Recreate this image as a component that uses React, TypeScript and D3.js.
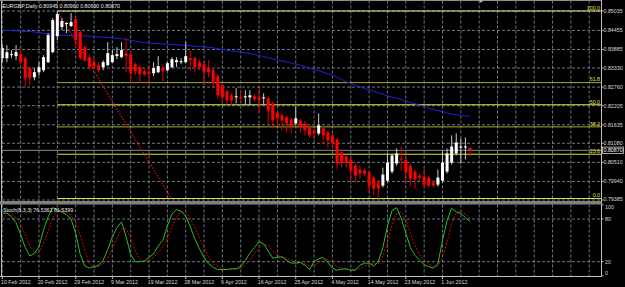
import React from "react";
import * as d3 from "d3";

const title = "EURGBP,Daily  0.80945 0.80960 0.80690 0.80870";
const stochTitle = "Stoch(8,3,3) 76.5362 81.5399";

const dateLabels = [
  "10 Feb 2012", "20 Feb 2012", "29 Feb 2012", "9 Mar 2012", "19 Mar 2012",
  "28 Mar 2012", "6 Apr 2012", "16 Apr 2012", "25 Apr 2012", "4 May 2012",
  "14 May 2012", "23 May 2012", "1 Jun 2012",
];

const openP = [
  0.83625, 0.83625, 0.83715, 0.83685, 0.83745, 0.83625, 0.83325, 0.83055, 0.83205, 0.83265,
  0.83505, 0.83805, 0.84285, 0.84555, 0.84645, 0.84585, 0.84795, 0.84405, 0.83955, 0.83655,
  0.83505, 0.83415, 0.83355, 0.83415, 0.83505, 0.83685, 0.83655, 0.83775, 0.83745, 0.83445,
  0.83355, 0.83235, 0.83205, 0.83175, 0.83205, 0.83325, 0.83265, 0.83355, 0.83505, 0.83505,
  0.83505, 0.83625, 0.83625, 0.83505, 0.83445, 0.83325, 0.83265, 0.83085, 0.82815, 0.82635,
  0.82515, 0.82455, 0.82455, 0.82455, 0.82455, 0.82485, 0.82455, 0.82425, 0.82425, 0.82275,
  0.82005, 0.81915, 0.81855, 0.81795, 0.81675, 0.81765, 0.81675, 0.81555, 0.81465, 0.81375,
  0.81525, 0.81405, 0.81315, 0.81195, 0.80805, 0.80685, 0.80595, 0.80415, 0.80295, 0.80265,
  0.80205, 0.80055, 0.79905, 0.79815, 0.79965, 0.80235, 0.80475, 0.80625, 0.80595, 0.80415,
  0.80235, 0.80115, 0.80085, 0.80055, 0.79905, 0.79845, 0.79965, 0.80235, 0.80505, 0.80775,
  0.80955, 0.80955, 0.80945,
];
const highP = [
  0.84045, 0.84015, 0.83865, 0.84015, 0.83925, 0.83685, 0.83385, 0.83325, 0.83505, 0.83715,
  0.84375, 0.84825, 0.85035, 0.84825, 0.84705, 0.84975, 0.84825, 0.84465, 0.84015, 0.83715,
  0.83625, 0.83505, 0.83565, 0.84105, 0.83865, 0.83955, 0.84105, 0.84225, 0.83805, 0.83505,
  0.83415, 0.83295, 0.83415, 0.83505, 0.83685, 0.83445, 0.83505, 0.83655, 0.83655, 0.83625,
  0.84105, 0.83865, 0.83685, 0.83565, 0.83565, 0.83565, 0.83325, 0.83145, 0.82875, 0.82695,
  0.82575, 0.82725, 0.82665, 0.82665, 0.82665, 0.82545, 0.82725, 0.82575, 0.82485, 0.82335,
  0.82065, 0.81975, 0.81915, 0.81855, 0.82185, 0.81825, 0.81735, 0.81615, 0.81525, 0.81975,
  0.81585, 0.81465, 0.81375, 0.81255, 0.80865, 0.80745, 0.80655, 0.80475, 0.80415, 0.80325,
  0.80265, 0.80115, 0.79965, 0.80355, 0.80775, 0.80775, 0.80925, 0.80985, 0.80655, 0.80475,
  0.80295, 0.80175, 0.80325, 0.80115, 0.79965, 0.80295, 0.80865, 0.80925, 0.81315, 0.81375,
  0.81225, 0.81255, 0.8096,
];
const lowP = [
  0.83505, 0.83505, 0.83625, 0.83565, 0.83415, 0.82755, 0.82815, 0.82965, 0.83115, 0.83205,
  0.83475, 0.83775, 0.84165, 0.84465, 0.84375, 0.84555, 0.83925, 0.83565, 0.83505, 0.83265,
  0.83325, 0.83205, 0.83265, 0.83385, 0.83475, 0.83595, 0.83625, 0.83205, 0.82875, 0.83115,
  0.82875, 0.83085, 0.82815, 0.83085, 0.83175, 0.82935, 0.83235, 0.83325, 0.83355, 0.83445,
  0.83475, 0.83265, 0.83205, 0.83265, 0.82815, 0.83055, 0.82725, 0.82425, 0.82305, 0.82245,
  0.82215, 0.82275, 0.82275, 0.82215, 0.82215, 0.82335, 0.82005, 0.82245, 0.81675, 0.81555,
  0.81615, 0.81465, 0.81405, 0.81375, 0.81615, 0.81405, 0.81315, 0.81255, 0.81165, 0.81315,
  0.81075, 0.80955, 0.80925, 0.80325, 0.80355, 0.80355, 0.79965, 0.79905, 0.80025, 0.80115,
  0.79605, 0.79545, 0.7943, 0.79755, 0.79905, 0.80175, 0.80415, 0.80265, 0.79905, 0.79815,
  0.79725, 0.79965, 0.79755, 0.79755, 0.79755, 0.79785, 0.79905, 0.80175, 0.80445, 0.80715,
  0.80475, 0.80595, 0.8069,
];
const closeP = [
  0.83925, 0.83805, 0.83745, 0.83805, 0.83505, 0.83025, 0.83025, 0.83205, 0.83355, 0.83655,
  0.84315, 0.84765, 0.84945, 0.84735, 0.84675, 0.84705, 0.84165, 0.83625, 0.83565, 0.83355,
  0.83355, 0.83265, 0.83505, 0.83775, 0.83715, 0.83745, 0.83865, 0.83685, 0.83175, 0.83235,
  0.83145, 0.83145, 0.83145, 0.83325, 0.83385, 0.83235, 0.83475, 0.83595, 0.83565, 0.83535,
  0.83685, 0.83565, 0.83355, 0.83355, 0.83205, 0.83205, 0.82875, 0.82515, 0.82455, 0.82365,
  0.82365, 0.82485, 0.82425, 0.82485, 0.82515, 0.82395, 0.82365, 0.82455, 0.82065, 0.81765,
  0.81825, 0.81765, 0.81675, 0.81585, 0.81825, 0.81555, 0.81465, 0.81315, 0.81375, 0.81615,
  0.81315, 0.81165, 0.81075, 0.80475, 0.80505, 0.80505, 0.80265, 0.80115, 0.80175, 0.80175,
  0.79815, 0.79725, 0.79725, 0.80145, 0.80505, 0.80715, 0.80775, 0.80595, 0.80205, 0.80025,
  0.79995, 0.80055, 0.79845, 0.79815, 0.79815, 0.80055, 0.80505, 0.80775, 0.80985, 0.81105,
  0.80985, 0.80985, 0.8087,
];

const maP = [
  0.84462, 0.84453, 0.84447, 0.84441, 0.84432, 0.84426, 0.8442, 0.84408, 0.84387, 0.84369,
  0.84351, 0.84333, 0.84315, 0.84312, 0.84306, 0.84303, 0.843, 0.84297, 0.84291, 0.84282,
  0.84273, 0.84261, 0.84252, 0.84243, 0.84231, 0.84222, 0.8421, 0.84183, 0.84159, 0.84135,
  0.84111, 0.8409, 0.84072, 0.84063, 0.84057, 0.84048, 0.84042, 0.84033, 0.84024, 0.84018,
  0.84006, 0.83997, 0.83985, 0.83973, 0.83964, 0.83952, 0.83931, 0.83907, 0.83886, 0.83862,
  0.83841, 0.83823, 0.83805, 0.83787, 0.83766, 0.83736, 0.83703, 0.8367, 0.8364, 0.83607,
  0.83574, 0.83541, 0.83511, 0.83478, 0.83445, 0.83412, 0.8337, 0.83328, 0.83289, 0.83247,
  0.83205, 0.83163, 0.83121, 0.83058, 0.82989, 0.82923, 0.82866, 0.82818, 0.8277, 0.82719,
  0.82677, 0.82635, 0.8259, 0.82542, 0.82494, 0.82461, 0.82428, 0.82383, 0.82344, 0.82302,
  0.8226, 0.82218, 0.82182, 0.82128, 0.82092, 0.82056, 0.82023, 0.81987, 0.81957, 0.81936,
  0.81915, 0.81897, 0.81885,
];

const stochK = [
  88, 88.5, 83, 75, 58, 40, 28, 32, 41, 65,
  83, 96, 93, 90, 86, 80, 60, 30, 14, 11,
  13, 15, 22, 37, 55, 68, 76, 55, 30, 20,
  20, 21, 26, 31, 42, 50, 70, 87, 93, 91,
  84, 69, 52, 38, 26, 17, 12, 9, 9, 9,
  10, 10, 13, 22, 32, 40, 48, 45, 35, 25,
  26, 27, 22, 18, 18, 19, 15, 9, 20, 24,
  26, 19, 11, 8, 9.5, 10, 8, 8, 15, 18,
  18, 14, 20, 40, 70, 92, 96, 81, 60, 40,
  29, 22, 16, 13, 11, 17, 50, 78, 95, 90,
  88, 82, 76.5,
];
const stochD = [
  80, 86, 86, 82, 72, 58, 42, 33, 33, 46,
  63, 82, 91, 93, 89, 85, 75, 57, 35, 18,
  12, 13, 17, 25, 38, 53, 66, 66, 54, 35,
  23, 20, 22, 26, 33, 41, 54, 69, 83, 90,
  89, 81, 68, 53, 39, 27, 18, 13, 10, 9,
  9, 10, 11, 15, 22, 31, 40, 44, 43, 35,
  29, 26, 25, 22, 19, 18, 17, 14, 15, 18,
  23, 23, 19, 13, 10, 9, 9, 9, 10, 14,
  17, 17, 17, 28, 47, 72, 87, 90, 79, 60,
  43, 30, 22, 17, 13, 14, 26, 48, 74, 88,
  91, 87, 81.5,
];

const priceTicks = [
  "0.85035", "0.84455", "0.83885", "0.83330", "0.82760", "0.82205",
  "0.81635", "0.81080", "0.80510", "0.79940", "0.79385",
];
const fibLevels = [100, 61.8, 50, 38.2, 23.6, 0];
const fibLabels = ["100.0", "61.8", "50.0", "38.2", "23.6", "0.0"];
const fibHigh = 0.85035;
const fibLow = 0.7943;
const fibStartBar = 12;
const fibTrendEndBar = 36.7;
const fibTrendEndPrice = 0.7946;
const bidPrice = 0.8087;
const bidLabel = "0.80870";
const stochTicks = [100, 80, 20, 0];
const stochGridLevels = [80, 20];

const FONT = "'Liberation Sans', Arial, sans-serif";
const FS = 5.3;

export default function App() {
  const n = closeP.length;
  const plotR = 601.5;
  const mainTop = 0.5;
  const mainBot = 201;
  const subTop = 204.5;
  const subBot = 276.5;

  const x = d3.scaleLinear().domain([0, n - 1]).range([2.3, 470]);
  const y = d3.scaleLinear().domain([0.79385, 0.85035]).range([200, 11]);
  const ys = d3.scaleLinear().domain([0, 100]).range([275.9, 204.8]);

  const gridColor = "#8496a8";
  const vGridBars = d3.range(0, 140, 4).filter((b) => x(b) < plotR - 1);

  const maLine = d3
    .line<number>()
    .x((_, i) => x(i))
    .y((d) => y(d))(maP) as string;
  const kLine = d3
    .line<number>()
    .x((_, i) => x(i))
    .y((d) => ys(d))(stochK) as string;
  const dLine = d3
    .line<number>()
    .x((_, i) => x(i))
    .y((d) => ys(d))(stochD) as string;

  const fibY = (lvl: number) => y(fibLow + (fibHigh - fibLow) * (lvl / 100));
  const fibColor = (lvl: number) =>
    lvl === 61.8 || lvl === 38.2 ? "#a8a830" : lvl === 100 ? "#f0f090" : "#e0e040";

  return (
    <svg
      width={625}
      height={287}
      style={{ position: "fixed", left: 0, top: 0, background: "#000", display: "block" }}
      fontFamily={FONT}
    >
      <rect x={0} y={0} width={625} height={287} fill="#000" />

      {/* vertical grid */}
      {vGridBars.map((b) => (
        <g key={"vg" + b}>
          <line x1={x(b)} x2={x(b)} y1={mainTop} y2={mainBot} stroke={gridColor} strokeWidth={0.8} strokeDasharray="3,2" />
          <line x1={x(b)} x2={x(b)} y1={subTop} y2={subBot} stroke={gridColor} strokeWidth={0.8} strokeDasharray="3,2" />
        </g>
      ))}
      {/* horizontal grid main */}
      {priceTicks.map((t) => (
        <line key={"hg" + t} x1={2} x2={plotR} y1={y(+t)} y2={y(+t)} stroke={gridColor} strokeWidth={0.8} strokeDasharray="3,2" />
      ))}
      {/* horizontal grid stoch */}
      {stochGridLevels.map((v) => (
        <line key={"sg" + v} x1={2} x2={plotR} y1={ys(v)} y2={ys(v)} stroke={gridColor} strokeWidth={0.8} strokeDasharray="3,2" />
      ))}

      {/* bid line */}
      <line x1={2} x2={plotR} y1={y(bidPrice)} y2={y(bidPrice)} stroke="#8a8a8a" strokeWidth={1} />

      {/* fibonacci levels */}
      {fibLevels.map((lvl, i) => (
        <g key={"fib" + lvl}>
          <line x1={x(fibStartBar)} x2={plotR} y1={fibY(lvl)} y2={fibY(lvl)} stroke={fibColor(lvl)} strokeWidth={1} />
          <text x={plotR - 1.5} y={fibY(lvl) - 1.2} fontSize={FS} fill="#e0e040" textAnchor="end">
            {fibLabels[i]}
          </text>
        </g>
      ))}
      <line
        x1={x(fibStartBar)}
        y1={y(fibHigh)}
        x2={x(fibTrendEndBar)}
        y2={y(fibTrendEndPrice)}
        stroke="#d81010"
        strokeWidth={1.2}
        strokeDasharray="1.5,1.5"
      />

      {/* moving average */}
      <path d={maLine} fill="none" stroke="#2020e0" strokeWidth={1} />

      {/* candles */}
      {closeP.map((c, i) => {
        const o = openP[i];
        const up = c >= o;
        const cx = x(i);
        const top = y(Math.max(o, c));
        const bot = y(Math.min(o, c));
        return (
          <g key={"c" + i}>
            <line x1={cx} x2={cx} y1={y(highP[i])} y2={y(lowP[i])} stroke={up ? "#c8c8c8" : "#e00000"} strokeWidth={1} />
            <rect x={cx - 1.5} y={top} width={3} height={Math.max(1, bot - top)} fill={up ? "#ffffff" : "#ff0000"} />
          </g>
        );
      })}

      {/* stochastic */}
      <path d={dLine} fill="none" stroke="#e00000" strokeWidth={1} strokeDasharray="2,1.5" />
      <path d={kLine} fill="none" stroke="#22c022" strokeWidth={1} />

      {/* frame */}
      <line x1={1.5} x2={1.5} y1={0} y2={subBot} stroke="#c0c0c0" strokeWidth={1} />
      <line x1={plotR} x2={plotR} y1={0} y2={subBot} stroke="#c0c0c0" strokeWidth={1} />
      <line x1={0} x2={plotR} y1={0.5} y2={0.5} stroke="#909090" strokeWidth={1} />
      <rect x={0} y={201} width={plotR} height={3.5} fill="#808080" />
      <line x1={0} x2={plotR} y1={subBot} y2={subBot} stroke="#c0c0c0" strokeWidth={1} />
      <path d="M478.5,0 L483.5,0 L481,3 Z" fill="#a0b0c0" />

      {/* title texts */}
      <text x={2.5} y={7.5} fontSize={FS} fill="#e8e8e8">{title}</text>
      <text x={3} y={211.5} fontSize={FS} fill="#e8e8e8">{stochTitle}</text>

      {/* price axis labels */}
      {priceTicks.map((t) => (
        <g key={"pl" + t}>
          <line x1={plotR} x2={plotR + 2} y1={y(+t)} y2={y(+t)} stroke="#c0c0c0" strokeWidth={1} />
          <text x={603.5} y={Math.min(y(+t), 199.5) + 1.9} fontSize={FS} fill="#d8d8d8">{t}</text>
        </g>
      ))}
      <rect x={602.5} y={y(bidPrice) - 3.2} width={21} height={6.4} fill="#000" stroke="#d0d0d0" strokeWidth={0.8} />
      <text x={603.5} y={y(bidPrice) + 1.9} fontSize={FS} fill="#ffffff">{bidLabel}</text>

      {/* stoch axis labels */}
      {stochTicks.map((v) => (
        <g key={"sl" + v}>
          <line x1={plotR} x2={plotR + 2} y1={ys(v)} y2={ys(v)} stroke="#c0c0c0" strokeWidth={1} />
          <text x={605} y={Math.max(207, Math.min(ys(v), 273)) + 1.9} fontSize={FS} fill="#d8d8d8">{v}</text>
        </g>
      ))}

      {/* date labels */}
      {dateLabels.map((d, i) => (
        <g key={"d" + i}>
          <line x1={x(i * 8)} x2={x(i * 8)} y1={subBot} y2={subBot + 2.5} stroke="#c0c0c0" strokeWidth={1} />
          <text x={x(i * 8) - 1.3} y={284} fontSize={FS} fill="#d8d8d8">{d}</text>
        </g>
      ))}
    </svg>
  );
}
